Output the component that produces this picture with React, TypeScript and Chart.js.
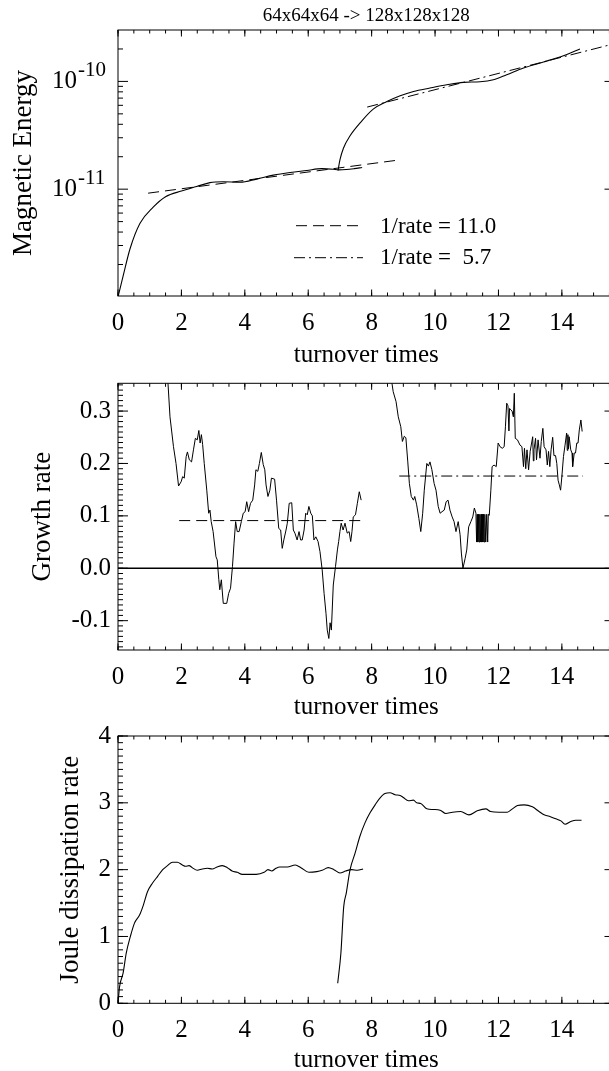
import React, { useEffect, useRef } from 'react';
import { Chart, registerables } from 'chart.js';

Chart.register(...registerables);

const FONT = '"Liberation Serif", "Times New Roman", Times, serif';

// ---------- DATA ----------
const titleText = '64x64x64 -> 128x128x128';
const xTitle = 'turnover times';

// Magnetic energy, run 1 (64^3)
const energyRun1T = [0, 0.17, 0.38, 0.69, 1.11, 1.5, 2.0, 2.48, 2.9, 3.32, 3.85, 4.37, 4.9, 5.43, 5.95, 6.43, 6.79, 6.95, 7.2, 7.45, 7.7];
const energyRun1 = [1.0e-12, 1.6e-12, 2.8e-12, 4.8e-12, 6.8e-12, 8.5e-12, 9.6e-12, 1.057e-11, 1.15e-11, 1.17e-11, 1.16e-11, 1.24e-11, 1.35e-11, 1.43e-11, 1.49e-11, 1.55e-11, 1.53e-11, 1.51e-11, 1.52e-11, 1.55e-11, 1.59e-11];
// Magnetic energy, run 2 (128^3)
const energyRun2T = [6.94, 7.0, 7.11, 7.32, 7.63, 8.05, 8.48, 8.9, 9.32, 9.84, 10.37, 10.89, 11.42, 11.84, 12.26, 12.79, 13.42, 14.05, 14.57];
const energyRun2 = [1.49e-11, 1.87e-11, 2.4e-11, 3.13e-11, 4.1e-11, 5.53e-11, 6.5e-11, 7.36e-11, 8.07e-11, 8.68e-11, 9.3e-11, 9.8e-11, 9.93e-11, 1.037e-10, 1.154e-10, 1.333e-10, 1.515e-10, 1.733e-10, 2.0e-10];
// exponential fits
const fitSlowT = [0.95, 8.74];
const fitSlowE = [9.18e-12, 1.845e-11];
const fitFastT = [7.86, 15.66];
const fitFastE = [5.78e-11, 2.24e-10];
const legendLabels = ['1/rate = 11.0', '1/rate =  5.7'];
const energyDecades = [-11, -10];

// Growth rate, run 1
const growthRun1T = [1.55, 1.64, 1.75, 1.83, 1.91, 1.99, 2.04, 2.09, 2.15, 2.19, 2.25, 2.32, 2.38, 2.44, 2.5, 2.55, 2.59, 2.63, 2.67, 2.72, 2.8, 2.86, 2.9, 2.94, 3.0, 3.09, 3.13, 3.18, 3.21, 3.26, 3.32, 3.43, 3.49, 3.55, 3.61, 3.66, 3.71, 3.76, 3.82, 3.89, 3.95, 4.01, 4.06, 4.12, 4.18, 4.25, 4.31, 4.35, 4.41, 4.46, 4.52, 4.58, 4.63, 4.67, 4.73, 4.79, 4.84, 4.94, 5.0, 5.07, 5.13, 5.18, 5.23, 5.3, 5.34, 5.4, 5.48, 5.53, 5.58, 5.65, 5.71, 5.76, 5.81, 5.87, 5.92, 5.97, 6.02, 6.08, 6.13, 6.18, 6.24, 6.31, 6.37, 6.44, 6.5, 6.56, 6.6, 6.65, 6.69, 6.73, 6.79, 6.86, 6.92, 6.96, 7.0, 7.04, 7.1, 7.16, 7.23, 7.29, 7.34, 7.38, 7.42, 7.49, 7.55, 7.61, 7.67];
const growthRun1 = [0.38, 0.289, 0.232, 0.2, 0.157, 0.165, 0.175, 0.172, 0.213, 0.222, 0.207, 0.203, 0.226, 0.248, 0.245, 0.263, 0.239, 0.255, 0.236, 0.2, 0.149, 0.105, 0.111, 0.089, 0.07, 0.022, 0.016, -0.022, -0.041, -0.022, -0.067, -0.067, -0.048, -0.038, 0.003, 0.048, 0.089, 0.07, 0.07, 0.089, 0.105, 0.108, 0.127, 0.108, 0.124, 0.13, 0.159, 0.188, 0.185, 0.2, 0.221, 0.198, 0.188, 0.159, 0.137, 0.149, 0.172, 0.17, 0.13, 0.076, 0.073, 0.038, 0.054, 0.073, 0.086, 0.124, 0.125, 0.073, 0.067, 0.054, 0.07, 0.054, 0.054, 0.073, 0.105, 0.102, 0.118, 0.105, 0.1, 0.054, 0.06, 0.051, 0.032, -0.003, -0.048, -0.086, -0.118, -0.134, -0.104, -0.118, -0.032, 0.003, 0.035, 0.051, 0.07, 0.086, 0.073, 0.086, 0.067, 0.07, 0.051, 0.07, 0.098, 0.102, 0.124, 0.146, 0.13];
// Growth rate, run 2
const growthRun2T = [8.6, 8.68, 8.77, 8.84, 8.92, 8.97, 9.03, 9.08, 9.14, 9.19, 9.25, 9.32, 9.36, 9.42, 9.49, 9.55, 9.61, 9.66, 9.74, 9.79, 9.84, 9.9, 9.97, 10.03, 10.1, 10.16, 10.22, 10.29, 10.35, 10.41, 10.47, 10.54, 10.6, 10.66, 10.73, 10.79, 10.83, 10.88, 10.95, 11.0, 11.06, 11.13, 11.19, 11.24, 11.29, 11.31, 11.33, 11.35, 11.37, 11.39, 11.41, 11.43, 11.45, 11.47, 11.49, 11.51, 11.53, 11.55, 11.57, 11.6, 11.63, 11.66, 11.68, 11.71, 11.76, 11.8, 11.86, 11.93, 11.99, 12.05, 12.12, 12.18, 12.22, 12.26, 12.3, 12.33, 12.35, 12.4, 12.43, 12.47, 12.5, 12.53, 12.6, 12.68, 12.74, 12.79, 12.82, 12.86, 12.9, 12.95, 13.0, 13.08, 13.1, 13.12, 13.17, 13.2, 13.25, 13.31, 13.35, 13.4, 13.44, 13.5, 13.54, 13.58, 13.62, 13.66, 13.71, 13.75, 13.8, 13.84, 13.88, 13.92, 13.96, 14.0, 14.05, 14.1, 14.15, 14.17, 14.19, 14.21, 14.23, 14.28, 14.32, 14.34, 14.39, 14.43, 14.47, 14.51, 14.55, 14.6, 14.64];
const growthRun2 = [0.37, 0.337, 0.318, 0.289, 0.27, 0.242, 0.252, 0.249, 0.203, 0.162, 0.137, 0.13, 0.137, 0.121, 0.095, 0.07, 0.105, 0.149, 0.2, 0.195, 0.203, 0.188, 0.162, 0.149, 0.118, 0.105, 0.108, 0.111, 0.127, 0.13, 0.111, 0.098, 0.089, 0.07, 0.089, 0.064, 0.029, 0.0, 0.019, 0.035, 0.079, 0.089, 0.098, 0.115, 0.105, 0.05, 0.103, 0.05, 0.103, 0.05, 0.103, 0.05, 0.103, 0.05, 0.103, 0.05, 0.103, 0.05, 0.103, 0.05, 0.103, 0.05, 0.103, 0.101, 0.149, 0.194, 0.197, 0.194, 0.239, 0.232, 0.229, 0.232, 0.27, 0.315, 0.31, 0.262, 0.305, 0.302, 0.3, 0.289, 0.334, 0.248, 0.245, 0.235, 0.232, 0.194, 0.229, 0.19, 0.226, 0.188, 0.223, 0.251, 0.205, 0.226, 0.248, 0.207, 0.245, 0.21, 0.242, 0.267, 0.232, 0.226, 0.197, 0.223, 0.194, 0.226, 0.25, 0.215, 0.215, 0.2, 0.168, 0.159, 0.149, 0.175, 0.213, 0.235, 0.258, 0.225, 0.255, 0.228, 0.251, 0.226, 0.22, 0.194, 0.22, 0.22, 0.239, 0.239, 0.264, 0.283, 0.261];
const zeroLineT = [0, 15.66];
const zeroLine = [0, 0];
const rateSlowT = [1.93, 7.74];
const rateSlow = [0.091, 0.091];
const rateFastT = [8.87, 14.66];
const rateFast = [0.176, 0.176];

// Joule dissipation, run 1
const jouleRun1T = [0, 0.05, 0.16, 0.26, 0.39, 0.52, 0.68, 0.8, 0.93, 1.09, 1.25, 1.41, 1.56, 1.72, 1.87, 2.03, 2.13, 2.24, 2.34, 2.5, 2.66, 2.82, 2.97, 3.13, 3.29, 3.45, 3.6, 3.76, 3.92, 4.16, 4.36, 4.61, 4.73, 4.85, 4.98, 5.1, 5.34, 5.59, 5.77, 6.02, 6.27, 6.44, 6.63, 6.81, 7.0, 7.18, 7.37, 7.55, 7.73];
const jouleRun1 = [0.0, 0.25, 0.45, 0.75, 1.0, 1.2, 1.32, 1.47, 1.67, 1.8, 1.9, 2.0, 2.06, 2.11, 2.11, 2.07, 2.05, 2.06, 2.03, 1.99, 2.01, 2.02, 2.01, 2.04, 2.06, 2.03, 1.98, 1.96, 1.93, 1.93, 1.93, 1.96, 2.0, 1.98, 2.02, 2.04, 2.04, 2.07, 2.03, 1.96, 1.97, 1.99, 2.03, 2.0, 1.95, 1.98, 2.0, 1.99, 2.01];
// Joule dissipation, run 2
const jouleRun2T = [6.93, 7.03, 7.12, 7.2, 7.32, 7.48, 7.63, 7.79, 7.95, 8.11, 8.26, 8.42, 8.58, 8.74, 8.9, 9.0, 9.16, 9.32, 9.42, 9.55, 9.74, 9.95, 10.16, 10.34, 10.55, 10.81, 11.07, 11.33, 11.6, 11.75, 12.02, 12.28, 12.44, 12.6, 12.81, 13.07, 13.28, 13.44, 13.6, 13.81, 13.97, 14.1, 14.28, 14.44, 14.62];
const jouleRun2 = [0.3, 0.75, 1.45, 1.65, 2.0, 2.25, 2.5, 2.7, 2.85, 2.97, 3.07, 3.14, 3.15, 3.12, 3.11, 3.08, 3.03, 3.04, 3.0, 2.99, 2.91, 2.9, 2.89, 2.84, 2.86, 2.87, 2.82, 2.88, 2.91, 2.87, 2.86, 2.86, 2.91, 2.96, 2.97, 2.94, 2.87, 2.82, 2.8, 2.76, 2.73, 2.68, 2.72, 2.74, 2.74];

// ---------- helpers ----------
const X_MAX = 15.66;
const pts = (xs: number[], ys: number[]) => xs.map((x, i) => ({ x, y: ys[i] }));
const steps = (a: number, b: number, s: number) => {
  const out: number[] = [];
  for (let v = a; v <= b + 1e-9; v += s) out.push(+v.toFixed(6));
  return out;
};

const framePlugin = {
  id: 'frame',
  afterDraw(chart: any, _args: any, opts: any) {
    const { ctx, chartArea: a, scales } = chart;
    const xs = scales.x;
    const ys = scales.y;
    ctx.save();
    ctx.strokeStyle = '#000';
    ctx.lineWidth = 1;
    ctx.setLineDash([]);
    ctx.strokeRect(a.left, a.top, a.right - a.left, a.bottom - a.top);
    ctx.beginPath();
    const xt = (vals: number[], len: number) => {
      vals.forEach((v) => {
        if (v < xs.min || v > xs.max) return;
        const p = xs.getPixelForValue(v);
        ctx.moveTo(p, a.bottom); ctx.lineTo(p, a.bottom - len);
        ctx.moveTo(p, a.top); ctx.lineTo(p, a.top + len);
      });
    };
    const yt = (vals: number[], len: number) => {
      vals.forEach((v) => {
        if (v < ys.min || v > ys.max) return;
        const p = ys.getPixelForValue(v);
        ctx.moveTo(a.left, p); ctx.lineTo(a.left + len, p);
        ctx.moveTo(a.right, p); ctx.lineTo(a.right - len, p);
      });
    };
    xt(opts.xMajors, 6.5);
    xt(opts.xMinors, 3.5);
    yt(opts.yMajors, 10);
    yt(opts.yMinors, 5);
    ctx.stroke();
    ctx.restore();
  },
};

const energyDecor = {
  id: 'energyDecor',
  afterDraw(chart: any) {
    const { ctx, chartArea: a, scales } = chart;
    const ys = scales.y;
    ctx.save();
    ctx.fillStyle = '#000';
    ctx.textBaseline = 'middle';
    energyDecades.forEach((d) => {
      const py = ys.getPixelForValue(Math.pow(10, d));
      ctx.font = `25px ${FONT}`;
      ctx.textAlign = 'right';
      ctx.fillText('10', a.left - 41, py);
      ctx.font = `21px ${FONT}`;
      ctx.textAlign = 'left';
      ctx.fillText(String(d), a.left - 40, py - 11);
    });
    // legend
    const lx0 = a.left + 178;
    const lx1 = a.left + 245;
    const tx = a.left + 262;
    ctx.strokeStyle = '#000';
    ctx.lineWidth = 1;
    ctx.font = `23px ${FONT}`;
    ctx.textAlign = 'left';
    ctx.setLineDash([11, 6]);
    ctx.beginPath();
    ctx.moveTo(lx0, a.top + 195.7);
    ctx.lineTo(lx1, a.top + 195.7);
    ctx.stroke();
    ctx.fillText(legendLabels[0], tx, a.top + 197);
    ctx.setLineDash([11, 4, 2, 4]);
    ctx.beginPath();
    ctx.moveTo(lx0 - 2, a.top + 227.7);
    ctx.lineTo(lx1, a.top + 227.7);
    ctx.stroke();
    ctx.fillText(legendLabels[1], tx, a.top + 228.3);
    ctx.restore();
  },
};

const lineDs = (data: any[], extra: any = {}) => ({
  data,
  borderColor: '#000',
  borderWidth: 1,
  pointRadius: 0,
  fill: false,
  ...extra,
});

const xScale = (height: number) => ({
  type: 'linear',
  position: 'bottom',
  min: 0,
  max: X_MAX,
  ticks: {
    stepSize: 2,
    includeBounds: false,
    padding: 12.5,
    color: '#000',
    font: { family: FONT, size: 25 },
    maxRotation: 0,
    autoSkip: false,
  },
  grid: { display: false, drawTicks: false },
  border: { display: false },
  title: { display: true, text: xTitle, color: '#000', font: { family: FONT, size: 25 }, padding: { top: 0, bottom: 0 } },
  afterFit: (s: any) => { s.height = height; },
});

const yTitle = (text: string, pad: number) => ({
  display: true,
  text,
  color: '#000',
  font: { family: FONT, size: 27 },
  padding: { top: pad, bottom: 0 },
});

const baseOptions = (padTop: number) => ({
  responsive: false,
  animation: false,
  events: [],
  layout: { padding: { top: padTop, left: 0, right: 5.5, bottom: 0 } },
});

const energyConfig = () => ({
  type: 'line',
  data: {
    datasets: [
      lineDs(pts(energyRun1T, energyRun1), { cubicInterpolationMode: 'monotone', borderWidth: 1.1 }),
      lineDs(pts(energyRun2T, energyRun2), { cubicInterpolationMode: 'monotone', borderWidth: 1.1 }),
      lineDs(pts(fitSlowT, fitSlowE), { borderDash: [11, 6] }),
      lineDs(pts(fitFastT, fitFastE), { borderDash: [11, 4, 2, 4] }),
    ],
  },
  options: {
    ...baseOptions(0),
    plugins: {
      legend: { display: false },
      tooltip: { enabled: false },
      title: {
        display: true,
        text: titleText,
        fullSize: false,
        color: '#000',
        font: { family: FONT, size: 19, weight: 'normal' },
        padding: { top: 4.6, bottom: 2.6 },
      },
      frame: {
        xMajors: steps(0, X_MAX, 2),
        xMinors: steps(0, X_MAX, 0.5),
        yMajors: [1e-11, 1e-10],
        yMinors: [2e-12, 3e-12, 4e-12, 5e-12, 6e-12, 7e-12, 8e-12, 9e-12, 2e-11, 3e-11, 4e-11, 5e-11, 6e-11, 7e-11, 8e-11, 9e-11, 2e-10],
      },
    },
    scales: {
      x: xScale(74),
      y: {
        type: 'logarithmic',
        min: 1.02e-12,
        max: 3.0e-10,
        ticks: { display: false },
        grid: { display: false, drawTicks: false },
        border: { display: false },
        title: yTitle('Magnetic Energy', 7.8),
        afterFit: (s: any) => { s.width = 118; },
      },
    },
  },
  plugins: [framePlugin, energyDecor],
});

const growthConfig = () => ({
  type: 'line',
  data: {
    datasets: [
      lineDs(pts(growthRun1T, growthRun1)),
      lineDs(pts(growthRun2T, growthRun2)),
      lineDs(pts(zeroLineT, zeroLine), { borderWidth: 1.3 }),
      lineDs(pts(rateSlowT, rateSlow), { borderDash: [11, 6] }),
      lineDs(pts(rateFastT, rateFast), { borderDash: [11, 4, 2, 4] }),
    ],
  },
  options: {
    ...baseOptions(33.3),
    plugins: {
      legend: { display: false },
      tooltip: { enabled: false },
      frame: {
        xMajors: steps(0, X_MAX, 2),
        xMinors: steps(0, X_MAX, 0.5),
        yMajors: steps(-0.1, 0.3, 0.1),
        yMinors: steps(-0.15, 0.35, 0.01),
      },
    },
    scales: {
      x: xScale(72),
      y: {
        type: 'linear',
        min: -0.156,
        max: 0.353,
        ticks: {
          stepSize: 0.1,
          includeBounds: false,
          padding: 7,
          color: '#000',
          font: { family: FONT, size: 25 },
          callback: (v: any) => Number(v).toFixed(1),
        },
        grid: { display: false, drawTicks: false },
        border: { display: false },
        title: yTitle('Growth rate', 26.3),
        afterFit: (s: any) => { s.width = 118; },
      },
    },
  },
  plugins: [framePlugin],
});

const jouleConfig = () => ({
  type: 'line',
  data: {
    datasets: [
      lineDs(pts(jouleRun1T, jouleRun1), { cubicInterpolationMode: 'monotone', borderWidth: 1.1 }),
      lineDs(pts(jouleRun2T, jouleRun2), { cubicInterpolationMode: 'monotone', borderWidth: 1.1 }),
    ],
  },
  options: {
    ...baseOptions(36),
    plugins: {
      legend: { display: false },
      tooltip: { enabled: false },
      frame: {
        xMajors: steps(0, X_MAX, 2),
        xMinors: steps(0, X_MAX, 0.5),
        yMajors: steps(0, 4, 1),
        yMinors: steps(0, 4, 0.1),
      },
    },
    scales: {
      x: xScale(71.7),
      y: {
        type: 'linear',
        min: 0,
        max: 4,
        ticks: {
          stepSize: 1,
          includeBounds: false,
          padding: 7,
          color: '#000',
          font: { family: FONT, size: 25 },
        },
        grid: { display: false, drawTicks: false },
        border: { display: false },
        title: yTitle('Joule dissipation rate', 54.6),
        afterFit: (s: any) => { s.width = 118; },
      },
    },
  },
  plugins: [framePlugin],
});

function Panel({ top, height, config }: { top: number; height: number; config: () => any }) {
  const ref = useRef<HTMLCanvasElement | null>(null);
  useEffect(() => {
    if (!ref.current) return;
    const chart = new Chart(ref.current, config() as any);
    return () => chart.destroy();
  }, []);
  return (
    <canvas
      ref={ref}
      width={620}
      height={height}
      style={{ position: 'absolute', left: 0, top, width: 620, height, display: 'block' }}
    />
  );
}

export default function App() {
  return (
    <div
      style={{
        position: 'absolute',
        left: 0,
        top: 0,
        width: 609,
        height: 1071,
        overflow: 'hidden',
        background: '#fff',
      }}
    >
      <Panel top={0} height={370} config={energyConfig} />
      <Panel top={350} height={372} config={growthConfig} />
      <Panel top={700} height={375} config={jouleConfig} />
    </div>
  );
}
